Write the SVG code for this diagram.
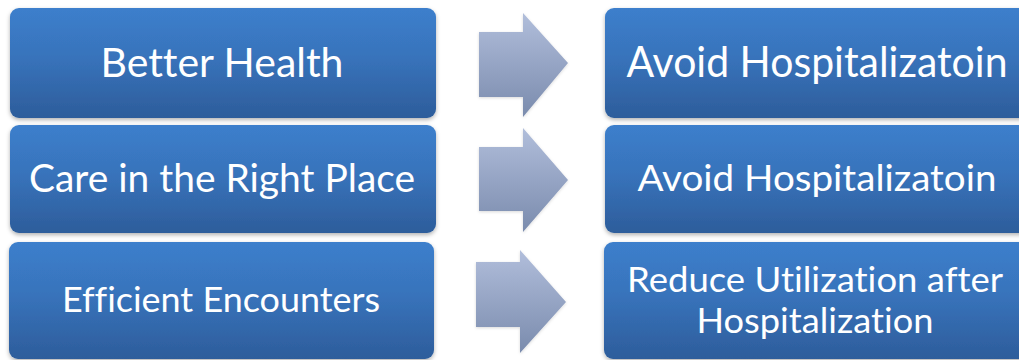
<svg xmlns="http://www.w3.org/2000/svg" width="1019" height="360" viewBox="0 0 1019 360">
<defs>
<linearGradient id="boxg" x1="0" y1="0" x2="0" y2="1">
<stop offset="0" stop-color="#3c7fcc"/>
<stop offset="0.45" stop-color="#3873bb"/>
<stop offset="1" stop-color="#2d5d9b"/>
</linearGradient>
<linearGradient id="arrg" x1="0" y1="0" x2="0" y2="1">
<stop offset="0" stop-color="#b1bedb"/>
<stop offset="1" stop-color="#7a8bad"/>
</linearGradient>
<filter id="sh" x="-5%" y="-10%" width="110%" height="125%">
<feDropShadow dx="0" dy="2" stdDeviation="2" flood-color="#000" flood-opacity="0.3"/>
</filter>
<filter id="ash" x="-10%" y="-10%" width="120%" height="125%">
<feDropShadow dx="0" dy="1" stdDeviation="1.5" flood-color="#000" flood-opacity="0.15"/>
</filter>
</defs>
<style>
.box{fill:url(#boxg);filter:url(#sh)}
.arr{fill:url(#arrg);filter:url(#ash)}
.t{fill:#fff;font-family:Lato,"Open Sans",sans-serif;text-anchor:middle;font-variant-ligatures:none;font-feature-settings:"liga" 0,"dlig" 0,"clig" 0}
</style>
<g id="connectors">
<polygon class="arr" points="479,32 523,32 523,13 568,63 523,117 523,97 479,97"/>
<polygon class="arr" points="479,147 523,147 523,128 568,180 523,232 523,211 479,211"/>
<polygon class="arr" points="476,262 520,262 520,250 566,302 520,353 520,327 476,327"/>
</g>
<g id="n1">
<rect class="box" x="10" y="8" width="426" height="110" rx="9"/>
<text class="t" x="222" y="77" font-size="40" textLength="243" lengthAdjust="spacingAndGlyphs">Better Health</text>
</g>
<g id="n2">
<rect class="box" x="10" y="125" width="426" height="108" rx="9"/>
<text class="t" x="222" y="192" font-size="39" textLength="386" lengthAdjust="spacingAndGlyphs">Care in the Right Place</text>
</g>
<g id="n3">
<rect class="box" x="9" y="242" width="425" height="117" rx="9"/>
<text class="t" x="221" y="312" font-size="35" textLength="318" lengthAdjust="spacingAndGlyphs">Efficient Encounters</text>
</g>
<g id="n4">
<rect class="box" x="605" y="8" width="430" height="110" rx="9"/>
<text class="t" x="817" y="77" font-size="42" textLength="381" lengthAdjust="spacingAndGlyphs">Avoid Hospitalizatoin</text>
</g>
<g id="n5">
<rect class="box" x="605" y="125" width="430" height="108" rx="9"/>
<text class="t" x="817" y="191" font-size="36.5" textLength="359" lengthAdjust="spacingAndGlyphs">Avoid Hospitalizatoin</text>
</g>
<g id="n6">
<rect class="box" x="604" y="242" width="431" height="117" rx="9"/>
<text class="t" x="815" y="292" font-size="34" textLength="376" lengthAdjust="spacingAndGlyphs">Reduce Utilization after</text>
<text class="t" x="815" y="333" font-size="34" textLength="237" lengthAdjust="spacingAndGlyphs">Hospitalization</text>
</g>
</svg>
